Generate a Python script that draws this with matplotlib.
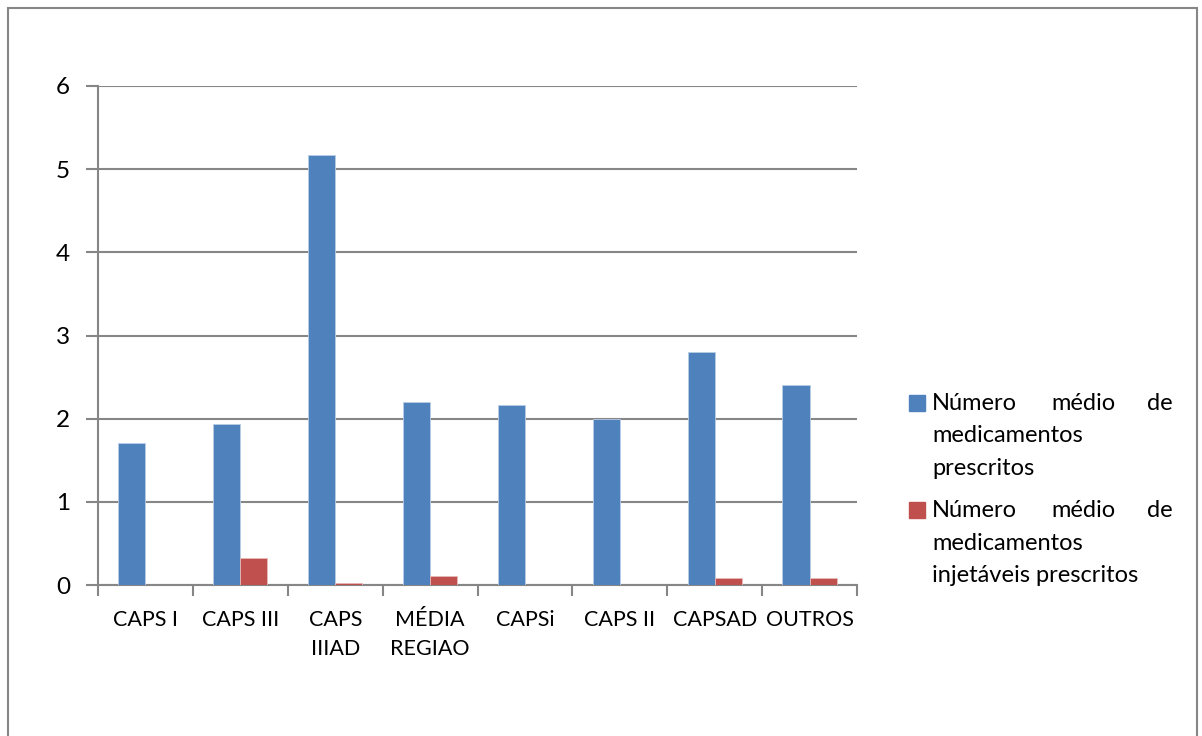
import matplotlib
matplotlib.use("Agg")
import matplotlib.pyplot as plt
import numpy as np
from matplotlib.patches import Rectangle

categories = ["CAPS I", "CAPS III", "CAPS\nIIIAD", "MÉDIA\nREGIAO", "CAPSi", "CAPS II", "CAPSAD", "OUTROS"]
prescritos = [1.71, 1.93, 5.17, 2.20, 2.17, 2.00, 2.80, 2.40]
injetaveis = [0.0, 0.33, 0.03, 0.11, 0.0, 0.0, 0.08, 0.08]
yticks = [0, 1, 2, 3, 4, 5, 6]

plt.rcParams['font.family'] = ['Lato', 'DejaVu Sans']
W, H = 1202, 736
fig = plt.figure(figsize=(W/100, H/100), dpi=100)

# outer border
fig.patches.append(Rectangle((8/W, -0.1), (1197-8)/W, 1.1 - 8/H, transform=fig.transFigure,
                             fill=False, edgecolor="#868686", linewidth=1.5))

ax = fig.add_axes([98/W, 1-585/H, (857-98)/W, (585-86)/H])
grey = "#868686"
blue = "#4F81BD"
red = "#C0504D"

x = np.arange(len(categories))
w = 1/3.5
ax.bar(x - w/2, prescritos, width=w, color=blue, edgecolor="#B9CDE5", linewidth=0.6, zorder=3)
ax.bar(x + w/2, injetaveis, width=w, color=red, edgecolor="#E6B9B8", linewidth=0.6, zorder=3)

ax.set_xlim(-0.5, len(categories) - 0.5)
ax.set_ylim(0, 6)
ax.set_yticks(yticks)
ax.set_yticklabels([str(t) for t in yticks])
ax.yaxis.grid(True, color=grey, linewidth=1.5, zorder=0)
ax.set_xticks(x)
ax.set_xticklabels(categories, linespacing=1.55)
ax.set_xticks(np.arange(len(categories) + 1) - 0.5, minor=True)
ax.tick_params(axis='x', which='major', length=0, pad=18, labelsize=15.5)
ax.tick_params(axis='x', which='minor', length=8, width=1.5, color=grey)
ax.tick_params(axis='y', length=9, width=1.5, color=grey, pad=11, labelsize=17.5)
for s in ["top", "right"]:
    ax.spines[s].set_visible(False)
for s in ["left", "bottom"]:
    ax.spines[s].set_color(grey)
    ax.spines[s].set_linewidth(1.5)

# legend (manual, justified text)
labels = [["Número", "médio", "de", "medicamentos", "prescritos"],
          ["Número", "médio", "de", "medicamentos", "injetáveis prescritos"]]
cols = [blue, red]
tops = [395, 502]
fs = 17
for top, col, lab in zip(tops, cols, labels):
    fig.patches.append(Rectangle((909/W, 1-(top+16)/H), 16/W, 16/H, transform=fig.transFigure,
                                 color=col))
    ybase = top + 15
    fig.text(932/W, 1-ybase/H, lab[0], fontsize=fs, va="baseline", ha="left")
    fig.text(1083/W, 1-ybase/H, lab[1], fontsize=fs, va="baseline", ha="center")
    fig.text(1173/W, 1-ybase/H, lab[2], fontsize=fs, va="baseline", ha="right")
    fig.text(932/W, 1-(ybase+32.5)/H, lab[3], fontsize=fs, va="baseline", ha="left")
    fig.text(932/W, 1-(ybase+65)/H, lab[4], fontsize=fs, va="baseline", ha="left")

fig.savefig("out.png", dpi=100)
